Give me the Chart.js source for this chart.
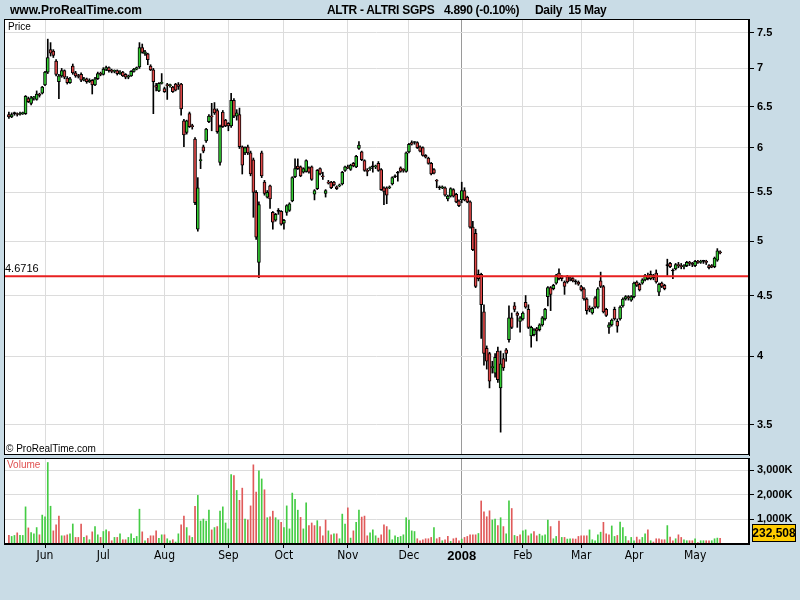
<!DOCTYPE html>
<html>
<head>
<title>ALTR - ALTRI SGPS</title>
<script src="https://cdn.jsdelivr.net/npm/chart.js"></script>
<style>
body { margin: 0; background: #c9dce6; font-family: "Liberation Sans", Arial, sans-serif; }
#wrap { position: relative; width: 800px; height: 600px; overflow: hidden; }
.hdr { position: absolute; top: 3px; font-weight: bold; font-size: 12px; white-space: pre; color: #000; }
.ttl { letter-spacing: -0.3px; }
canvas { position: absolute; left: 0; }
#priceChart { top: 0; }
#volChart { top: 455px; }
</style>
</head>
<body>
<div id="wrap">
  <canvas id="priceChart" width="800" height="458"></canvas>
  <canvas id="volChart" width="800" height="145"></canvas>
  <div class="hdr" style="left:10px">www.ProRealTime.com</div>
  <div class="hdr ttl" style="left:327px">ALTR - ALTRI SGPS</div>
  <div class="hdr ttl" style="left:444px">4.890 (-0.10%)</div>
  <div class="hdr ttl" style="left:535px">Daily  15 May</div>
</div>

<script>
// daily data, 15 May 2007 .. 15 May 2008
const firstDay = '2007-05-15';
const holidays = ['2007-12-25', '2007-12-26', '2008-01-01', '2008-03-21', '2008-03-24', '2008-05-01'];
const tickLabels = ['Jun', 'Jul', 'Aug', 'Sep', 'Oct', 'Nov', 'Dec', '2008', 'Feb', 'Mar', 'Apr', 'May'];
const priceTicks = [3.5, 4, 4.5, 5, 5.5, 6, 6.5, 7, 7.5];
const volumeTicks = [1000, 2000, 3000];
const refLevel = 4.6716;
const lastVolume = 232508;

const opens = [
  6.40,6.37,6.41,6.41,6.40,6.41,6.41,6.60,6.54,6.61, 6.59,6.66,6.67,6.78,6.95,7.26,7.24,7.10,6.82,6.90,
  6.97,6.87,6.81,7.03,6.94,6.90,6.92,6.84,6.86,6.82, 6.84,6.78,6.86,6.93,6.92,6.99,7.01,6.97,6.96,6.97,
  6.93,6.95,6.92,6.88,6.90,6.96,6.99,7.02,7.29,7.20, 7.20,7.03,6.98,6.77,6.70,6.80,6.73,6.78,6.77,6.75,
  6.79,6.78,6.79,6.32,6.18,6.41,6.26,6.10,5.12,5.85, 6.01,6.08,6.31,6.38,6.47,6.45,5.83,6.43,6.33,6.29,
  6.26,6.58,6.38,6.40,6.01,5.94,6.01,5.94,5.86,5.50, 4.80,5.94,5.61,5.45,5.57,5.29,5.21,5.30,5.30,5.18,
  5.29,5.31,5.41,5.67,5.79,5.78,5.72,5.73,5.77,5.78, 5.48,5.54,5.76,5.68,5.49,5.61,5.61,5.61,5.56,5.57,
  5.59,5.74,5.78,5.75,5.82,5.78,5.99,5.95,5.85,5.74, 5.76,5.78,5.78,5.82,5.75,5.55,5.55,5.55,5.59,5.67,
  5.71,5.77,5.75,5.73,5.95,6.06,6.06,6.06,6.01,6.00, 5.91,5.88,5.82,5.75,5.63,5.55,5.55,5.55,5.43,5.46,
  5.53,5.48,5.41,5.42,5.52,5.45,5.40,5.14,5.08,4.69, 4.69,4.36,4.06,4.02,3.91,3.87,4.04,3.76,3.98,4.05,
  4.13,4.31,4.41,4.35,4.28,4.30,4.44,4.38,4.16,4.17, 4.22,4.21,4.25,4.30,4.49,4.57,4.56,4.61,4.70,4.67,
  4.62,4.67,4.66,4.65,4.62,4.62,4.58,4.56,4.47,4.39, 4.35,4.48,4.40,4.63,4.58,4.38,4.23,4.25,4.38,4.28,
  4.30,4.41,4.47,4.49,4.46,4.49,4.62,4.60,4.61,4.64, 4.67,4.65,4.68,4.70,4.53,4.61,4.59,4.77,4.79,4.72,
  4.74,4.78,4.77,4.76,4.77,4.80,4.79,4.77,4.81,4.80, 4.81,4.81,4.77,4.77,4.76,4.82,4.90
];
const highs = [
  6.43,6.42,6.43,6.42,6.43,6.43,6.64,6.62,6.63,6.63, 6.70,6.67,6.76,6.96,7.41,7.36,7.26,7.12,6.92,7.00,
  6.98,6.89,6.88,7.06,6.96,6.92,6.94,6.88,6.87,6.86, 6.85,6.88,6.95,6.95,7.01,7.03,7.02,6.99,6.98,6.98,
  6.97,6.96,6.93,6.91,6.97,7.00,7.02,7.36,7.34,7.25, 7.21,7.05,7.00,6.80,6.81,6.93,6.75,6.80,6.79,6.76,
  6.80,6.81,6.80,6.34,6.33,6.43,6.28,6.12,5.66,5.93, 6.03,6.23,6.40,6.54,6.55,6.47,6.27,6.45,6.34,6.30,
  6.67,6.60,6.46,6.48,6.02,6.01,6.03,5.96,5.88,5.52, 5.40,5.96,5.63,5.52,5.58,5.30,5.28,5.33,5.31,5.22,
  5.37,5.39,5.67,5.87,5.87,5.79,5.77,5.86,5.78,5.79, 5.53,5.75,5.77,5.72,5.53,5.63,5.62,5.62,5.57,5.59,
  5.73,5.79,5.80,5.81,5.83,5.91,6.07,5.96,5.86,5.76, 5.78,5.84,5.80,5.84,5.76,5.56,5.56,5.57,5.67,5.69,
  5.73,5.78,5.76,5.95,6.05,6.08,6.07,6.07,6.02,6.01, 5.92,5.89,5.83,5.76,5.64,5.57,5.57,5.56,5.47,5.55,
  5.54,5.49,5.42,5.61,5.55,5.46,5.41,5.20,5.12,4.73, 4.70,4.42,4.08,4.03,3.96,4.02,4.07,4.04,4.02,4.06,
  4.41,4.35,4.44,4.36,4.32,4.36,4.50,4.42,4.24,4.22, 4.23,4.26,4.32,4.39,4.58,4.58,4.60,4.69,4.74,4.68,
  4.63,4.68,4.67,4.66,4.64,4.63,4.59,4.57,4.48,4.41, 4.40,4.49,4.57,4.71,4.59,4.39,4.27,4.30,4.40,4.30,
  4.41,4.48,4.50,4.50,4.50,4.62,4.63,4.61,4.65,4.69, 4.70,4.72,4.69,4.73,4.61,4.62,4.60,4.83,4.80,4.74,
  4.79,4.80,4.79,4.78,4.81,4.81,4.80,4.82,4.82,4.82, 4.82,4.82,4.78,4.78,4.85,4.93,4.91
];
const lows = [
  6.35,6.36,6.39,6.38,6.39,6.40,6.40,6.55,6.52,6.58, 6.58,6.62,6.66,6.77,6.93,7.17,7.15,6.90,6.60,6.88,
  6.86,6.79,6.80,6.92,6.88,6.87,6.82,6.83,6.80,6.81, 6.66,6.77,6.85,6.90,6.91,6.97,6.95,6.94,6.94,6.91,
  6.92,6.89,6.86,6.86,6.89,6.95,6.98,7.00,7.21,7.18, 7.05,6.97,6.41,6.70,6.69,6.79,6.68,6.59,6.75,6.68,
  6.70,6.72,6.39,6.01,6.16,6.24,6.22,5.37,5.10,5.76, 5.94,6.06,6.30,6.20,6.40,6.17,5.80,6.24,6.25,6.20,
  6.24,6.36,6.33,5.99,5.70,5.92,5.92,5.68,5.24,5.02, 4.66,5.66,5.47,5.44,5.33,5.12,5.20,5.27,5.16,5.12,
  5.26,5.30,5.40,5.66,5.75,5.67,5.71,5.72,5.71,5.63, 5.42,5.53,5.69,5.64,5.45,5.59,5.54,5.57,5.53,5.56,
  5.58,5.73,5.76,5.74,5.78,5.77,5.98,5.85,5.73,5.68, 5.74,5.72,5.76,5.73,5.52,5.37,5.38,5.54,5.58,5.66,
  5.62,5.72,5.72,5.72,5.94,6.03,6.04,5.99,5.95,5.90, 5.88,5.81,5.69,5.70,5.55,5.53,5.54,5.46,5.41,5.45,
  5.45,5.39,5.35,5.39,5.41,5.39,5.13,4.91,4.57,4.63, 4.14,3.93,3.90,3.76,3.87,3.84,3.80,3.45,3.89,3.96,
  4.11,4.22,4.36,4.23,4.19,4.29,4.39,4.22,4.07,4.16, 4.12,4.20,4.24,4.29,4.41,4.37,4.55,4.60,4.64,4.63,
  4.51,4.61,4.63,4.62,4.60,4.59,4.54,4.46,4.34,4.36, 4.34,4.39,4.39,4.57,4.35,4.32,4.18,4.24,4.29,4.19,
  4.29,4.40,4.46,4.46,4.45,4.48,4.58,4.54,4.60,4.63, 4.64,4.64,4.64,4.61,4.50,4.57,4.55,4.68,4.75,4.65,
  4.73,4.75,4.74,4.74,4.76,4.77,4.76,4.76,4.79,4.79, 4.79,4.78,4.74,4.75,4.75,4.81,4.88
];
const closes = [
  6.37,6.40,6.41,6.40,6.41,6.42,6.63,6.56,6.61,6.62, 6.66,6.64,6.75,6.95,7.15,7.21,7.18,6.92,6.90,6.97,
  6.88,6.81,6.86,6.94,6.90,6.89,6.84,6.86,6.82,6.84, 6.78,6.86,6.93,6.92,6.99,7.01,6.97,6.96,6.97,6.93,
  6.95,6.90,6.88,6.90,6.96,6.99,7.01,7.29,7.22,7.23, 7.12,6.98,6.82,6.75,6.80,6.81,6.69,6.77,6.78,6.69,
  6.71,6.76,6.47,6.15,6.32,6.25,6.25,5.39,5.55,5.86, 5.96,6.22,6.38,6.37,6.42,6.19,6.25,6.25,6.26,6.26,
  6.58,6.38,6.42,6.01,5.80,6.00,5.94,5.70,5.50,5.04, 5.37,5.68,5.49,5.50,5.43,5.19,5.27,5.30,5.17,5.21,
  5.36,5.38,5.66,5.76,5.76,5.68,5.76,5.85,5.72,5.64, 5.52,5.74,5.70,5.67,5.52,5.60,5.55,5.58,5.54,5.58,
  5.72,5.78,5.77,5.80,5.79,5.90,6.03,5.86,5.74,5.73, 5.77,5.78,5.79,5.74,5.53,5.51,5.47,5.56,5.66,5.67,
  5.71,5.73,5.74,5.94,6.04,6.04,6.06,6.00,5.96,5.91, 5.89,5.82,5.70,5.71,5.62,5.55,5.56,5.47,5.46,5.54,
  5.46,5.40,5.36,5.52,5.42,5.40,5.14,4.92,4.58,4.65, 4.42,4.02,3.96,3.81,3.92,3.99,3.82,3.94,3.91,4.02,
  4.31,4.23,4.38,4.33,4.31,4.35,4.40,4.23,4.23,4.21, 4.20,4.25,4.31,4.38,4.57,4.51,4.59,4.68,4.65,4.65,
  4.58,4.62,4.65,4.63,4.62,4.60,4.55,4.47,4.37,4.38, 4.39,4.40,4.56,4.58,4.36,4.33,4.25,4.29,4.30,4.24,
  4.40,4.47,4.49,4.48,4.49,4.61,4.59,4.55,4.64,4.68, 4.65,4.69,4.66,4.62,4.60,4.58,4.56,4.77,4.76,4.72,
  4.78,4.77,4.76,4.77,4.80,4.79,4.78,4.81,4.80,4.81, 4.81,4.80,4.75,4.76,4.84,4.91,4.89
];
// volume in thousands of shares
const volumes = [
  347,307,347,453,347,347,1507,653,467,413, 667,373,1173,1107,3307,1533,533,773,1133,333,
  333,373,413,813,267,267,813,267,333,173, 493,707,373,267,507,573,507,133,267,267,
  413,173,173,267,413,227,307,1413,493,133, 227,333,333,533,227,373,373,213,133,173,
  80,413,773,1133,667,333,267,1533,1973,933, 1013,933,1373,573,667,707,1333,1507,853,613,
  2813,2773,2173,1773,2267,1013,973,1547,3213,2107, 2973,2640,2200,1067,1107,1333,1067,973,880,667,
  1547,613,2067,1813,1373,1080,613,1667,747,853, 747,947,707,333,973,533,373,413,413,213,
  1213,813,1467,240,533,880,1373,1093,1133,333, 453,573,333,240,373,773,707,573,173,333,
  267,307,373,1067,973,533,507,213,133,173, 213,213,267,667,213,267,133,173,307,107,
  213,240,133,200,267,307,373,373,373,427, 1747,1307,1107,1347,973,1013,747,1067,707,413,
  1747,1440,347,307,373,533,573,333,413,507, 333,400,333,373,973,707,213,307,933,267,
  267,200,213,213,200,307,333,333,333,573, 173,133,373,480,880,413,373,733,307,347,
  893,667,307,133,267,133,280,173,267,413, 573,133,80,213,213,173,173,747,280,133,
  213,373,267,173,133,133,133,213,53,133, 133,133,133,133,213,240,232.508
];

const FONT = '"Liberation Sans", Arial, sans-serif';
const NARROW = '"Liberation Sans Narrow", "DejaVu Sans Condensed", Arial, sans-serif';
const GREEN = '#33cc33';
const RED = '#e04848';
const VOL_GREEN = '#44cc44';
const VOL_RED = '#e05a5a';
const GRID = '#dcdcdc';

// trading days -> index of the first session of each month
function tradingDays(n) {
  const out = [];
  const d = new Date(firstDay + 'T00:00:00Z');
  while (out.length < n) {
    const dow = d.getUTCDay();
    const iso = d.toISOString().slice(0, 10);
    if (dow !== 0 && dow !== 6 && !holidays.includes(iso)) out.push(new Date(d));
    d.setUTCDate(d.getUTCDate() + 1);
  }
  return out;
}
const days = tradingDays(closes.length);
const monthStarts = [];
for (let i = 1; i < days.length; i++) {
  if (days[i].getUTCMonth() !== days[i - 1].getUTCMonth()) monthStarts.push(i);
}
const yearStart = monthStarts[tickLabels.indexOf('2008')];

const xMin = -1.76, xMax = 266.4;

const bodies = closes.map((c, i) => ({ x: i, y: [opens[i], c] }));
const wicks = highs.map((h, i) => ({ x: i, y: [lows[i], h] }));
const bodyColors = closes.map((c, i) => c > opens[i] ? GREEN : (c < opens[i] ? RED : '#000'));
const volData = volumes.map((v, i) => ({ x: i, y: v }));
const volColors = volumes.map((v, i) => closes[i] >= (i ? closes[i - 1] : opens[i]) ? VOL_GREEN : VOL_RED);

function xGridColor(c) {
  return c.tick && c.tick.value === yearStart ? '#9a9a9a' : GRID;
}
// keep the plot area exactly where it is placed, no room for half labels
function noPad(s) {
  s.paddingTop = 0; s.paddingBottom = 0; s.paddingLeft = 0; s.paddingRight = 0;
}

const priceFrame = {
  id: 'priceFrame',
  beforeDraw(chart) {
    const { ctx, chartArea: a } = chart;
    ctx.save();
    ctx.fillStyle = '#fff';
    ctx.fillRect(a.left, a.top, a.right - a.left, a.bottom - a.top);
    ctx.restore();
  },
  afterDraw(chart) {
    const { ctx, chartArea: a, scales } = chart;
    ctx.save();
    ctx.strokeStyle = '#000';
    ctx.lineWidth = 1;
    ctx.strokeRect(a.left + 0.5, a.top + 0.5, a.right - a.left - 1, a.bottom - a.top - 1);
    ctx.fillStyle = '#000';
    ctx.font = '10px ' + FONT;
    ctx.textBaseline = 'top';
    ctx.fillText('Price', a.left + 4, a.top + 3);
    ctx.textBaseline = 'bottom';
    ctx.fillText('\u00a9 ProRealTime.com', a.left + 2, a.bottom - 1);
    ctx.font = '11px ' + FONT;
    ctx.fillText(String(refLevel), a.left + 1, scales.y.getPixelForValue(refLevel) - 2);
    ctx.restore();
  }
};

const volFrame = {
  id: 'volFrame',
  beforeDraw(chart) {
    const { ctx, chartArea: a } = chart;
    ctx.save();
    ctx.fillStyle = '#fff';
    ctx.fillRect(a.left, a.top, a.right - a.left, a.bottom - a.top);
    ctx.restore();
  },
  afterDraw(chart) {
    const { ctx, chartArea: a, scales } = chart;
    ctx.save();
    ctx.strokeStyle = '#000';
    ctx.lineWidth = 1;
    ctx.strokeRect(a.left + 0.5, a.top + 0.5, a.right - a.left - 1, a.bottom - a.top - 1);
    ctx.fillStyle = '#e05050';
    ctx.font = '10px ' + FONT;
    ctx.textBaseline = 'top';
    ctx.fillText('Volume', a.left + 3, a.top + 2);
    // last volume box
    const cy = Math.min(scales.y.getPixelForValue(lastVolume / 1000), a.bottom - 11);
    const bx = a.right + 3, bw = 44, bh = 18;
    ctx.fillStyle = '#ffcc00';
    ctx.fillRect(bx, cy - bh / 2, bw, bh);
    ctx.strokeRect(bx + 0.5, cy - bh / 2 + 0.5, bw - 1, bh - 1);
    ctx.fillStyle = '#000';
    ctx.font = 'bold 12px ' + FONT;
    ctx.textAlign = 'center';
    ctx.textBaseline = 'middle';
    ctx.fillText(lastVolume.toLocaleString('en-US'), bx + bw / 2, cy + 1);
    ctx.restore();
  }
};

const common = {
  responsive: false,
  animation: false,
  devicePixelRatio: 1,
  events: [],
  plugins: { legend: { display: false }, tooltip: { enabled: false } }
};

new Chart(document.getElementById('priceChart'), {
  type: 'bar',
  data: {
    datasets: [
      { type: 'line', data: [{ x: xMin, y: refLevel }, { x: xMax, y: refLevel }],
        borderColor: '#e82020', borderWidth: 2, pointRadius: 0, order: 0 },
      { data: bodies, backgroundColor: bodyColors, borderColor: '#000', borderWidth: 1,
        borderSkipped: false, barThickness: 3, minBarLength: 1, grouped: false, order: 1 },
      { data: wicks, backgroundColor: '#000', barThickness: 1, grouped: false, order: 2 }
    ]
  },
  options: Object.assign({}, common, {
    layout: { padding: { left: 4, top: 19, right: 0, bottom: 3 } },
    scales: {
      x: {
        type: 'linear', min: xMin, max: xMax, offset: false,
        afterBuildTicks: s => { s.ticks = monthStarts.map(v => ({ value: v })); },
        ticks: { display: false },
        grid: { offset: false, drawTicks: false, color: xGridColor },
        border: { display: false },
        afterFit: s => { s.height = 0; noPad(s); }
      },
      y: {
        type: 'logarithmic', position: 'right', min: 3.309, max: 7.706,
        afterBuildTicks: s => { s.ticks = priceTicks.map(v => ({ value: v })); },
        ticks: { color: '#000', padding: 3, font: { family: FONT, size: 11, weight: 'bold' }, callback: v => String(v) },
        grid: { color: GRID, tickColor: '#000', tickLength: 5 },
        border: { display: true, color: '#000' },
        afterFit: s => { s.width = 51; noPad(s); }
      }
    }
  }),
  plugins: [priceFrame]
});

new Chart(document.getElementById('volChart'), {
  type: 'bar',
  data: {
    datasets: [
      { data: volData, backgroundColor: volColors, barThickness: 1, grouped: false }
    ]
  },
  options: Object.assign({}, common, {
    layout: { padding: { left: 4, top: 3, right: 0, bottom: 0 } },
    scales: {
      x: {
        type: 'linear', min: xMin, max: xMax, offset: false,
        afterBuildTicks: s => { s.ticks = monthStarts.map(v => ({ value: v })); },
        ticks: {
          autoSkip: false, maxRotation: 0, padding: 1, color: '#000',
          font: c => c.index === tickLabels.indexOf('2008')
            ? { family: FONT, size: 13, weight: 'bold' }
            : { family: NARROW, size: 12 },
          callback: (v, i) => tickLabels[i]
        },
        grid: { offset: false, color: xGridColor, tickColor: '#000', tickLength: 4 },
        border: { display: true, color: '#000' },
        afterFit: s => { s.height = 56; noPad(s); }
      },
      y: {
        type: 'linear', position: 'right', min: 0, max: 3490,
        afterBuildTicks: s => { s.ticks = volumeTicks.map(v => ({ value: v })); },
        ticks: { color: '#000', padding: 3, font: { family: FONT, size: 11, weight: 'bold' },
          callback: v => v.toLocaleString('en-US') + 'K' },
        grid: { color: GRID, tickColor: '#000', tickLength: 5 },
        border: { display: true, color: '#000' },
        afterFit: s => { s.width = 51; noPad(s); }
      }
    }
  }),
  plugins: [volFrame]
});
</script>
</body>
</html>
